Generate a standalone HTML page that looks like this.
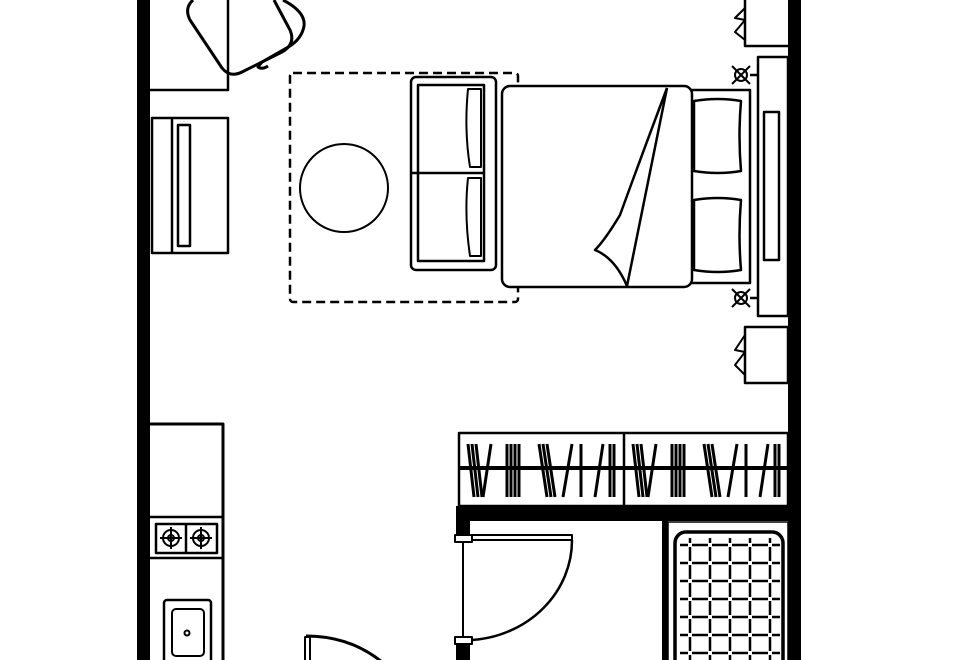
<!DOCTYPE html>
<html><head><meta charset="utf-8"><style>html,body{margin:0;padding:0;background:#fff}svg{display:block}</style></head>
<body>
<svg width="960" height="660" viewBox="0 0 960 660" xmlns="http://www.w3.org/2000/svg" fill="none" stroke="#000" stroke-width="2.5" stroke-linejoin="round">
<defs>
<g id="hang" stroke-width="3">
<line x1="13" y1="444" x2="19" y2="497"/><line x1="17" y1="444" x2="23" y2="497"/><line x1="21" y1="444" x2="27" y2="497"/>
<line x1="36" y1="444" x2="28" y2="497"/>
<line x1="52" y1="444" x2="52" y2="497"/><line x1="56" y1="444" x2="56" y2="497"/><line x1="60" y1="444" x2="60" y2="497"/><line x1="64" y1="444" x2="64" y2="497"/>
<line x1="84" y1="444" x2="92" y2="497"/><line x1="88" y1="444" x2="96" y2="497"/><line x1="92" y1="444" x2="100" y2="497"/>
<line x1="117" y1="444" x2="108" y2="497"/><line x1="126" y1="444" x2="126" y2="497"/>
<line x1="148" y1="444" x2="140" y2="497"/><line x1="155" y1="444" x2="155" y2="497"/><line x1="159" y1="444" x2="159" y2="497"/>
</g>
<g id="sock" stroke-width="2">
<circle cx="0" cy="0" r="6"/><line x1="-9" y1="-9" x2="9" y2="9"/><line x1="-9" y1="9" x2="9" y2="-9"/>
</g>
</defs>
<rect x="137" y="0" width="13" height="660" fill="#000" stroke="none"/>
<rect x="788" y="0" width="13" height="660" fill="#000" stroke="none"/>
<rect x="456" y="506" width="345" height="15" fill="#000" stroke="none"/>
<rect x="456" y="506" width="14" height="30" fill="#000" stroke="none"/>
<rect x="456" y="642" width="14" height="18" fill="#000" stroke="none"/>
<rect x="662" y="520" width="6" height="140" fill="#000" stroke="none"/>
<polyline points="150,90 228,90 228,0"/>
<path d="M193,0 Q184,8 190,20 L222,68 Q230,78 242,72 L282,52 Q296,44 290,30 L274,0" stroke-width="3"/>
<path d="M283,0 Q306,12 304,26 Q302,38 290,46 L262,62 L258,67 Q262,70 268,66" stroke-width="3"/>
<rect x="152" y="118" width="76" height="135"/>
<line x1="172" y1="118" x2="172" y2="253"/>
<rect x="178" y="125" width="12" height="121"/>
<rect x="290" y="73" width="228" height="229" rx="3" stroke-dasharray="9 5"/>
<circle cx="344" cy="188" r="44" stroke-width="2"/>
<rect x="411" y="77" width="85" height="193" rx="5" fill="#fff"/>
<rect x="418" y="85" width="66" height="176"/>
<line x1="411" y1="173" x2="484" y2="173"/>
<path d="M468,89 L481,89 L481,167 L470,167 Q464,130 468,89Z" stroke-width="2"/>
<path d="M468,178 L481,178 L481,256 L470,256 Q464,215 468,178Z" stroke-width="2"/>
<rect x="690" y="90" width="60" height="193"/>
<path d="M694,101 Q718,97 741,101 Q738,136 741,171 Q718,175 694,171Z" fill="#fff"/>
<path d="M694,200 Q718,196 741,200 Q738,235 741,270 Q718,274 694,270Z" fill="#fff"/>
<rect x="502" y="86" width="190" height="201" rx="8" fill="#fff"/>
<line x1="667" y1="88" x2="627" y2="286"/>
<path d="M667,88 Q640,160 620,215 Q605,240 595,250 Q615,258 627,286"/>
<rect x="758" y="57" width="30" height="259"/>
<rect x="764" y="112" width="15" height="148"/>
<use href="#sock" x="741" y="75"/><use href="#sock" x="741" y="298"/>
<line x1="750" y1="75" x2="758" y2="75"/><line x1="750" y1="298" x2="758" y2="298"/>
<polyline points="788,46 745,46 745,0"/>
<path d="M745,8 L735,18 L745,20 L735,32 L745,40" stroke-width="2"/>
<rect x="745" y="327" width="43" height="56"/>
<path d="M745,335 L735,350 L745,352 L735,365 L745,375" stroke-width="2"/>
<rect x="459" y="433" width="329" height="73"/>
<line x1="624" y1="433" x2="624" y2="506"/>
<line x1="459" y1="468" x2="788" y2="468" stroke-width="4"/>
<use href="#hang" x="455" y="0"/><use href="#hang" x="620" y="0"/>
<rect x="455" y="535" width="17" height="7" fill="#fff" stroke-width="2"/>
<rect x="455" y="637" width="17" height="7" fill="#fff" stroke-width="2"/>
<line x1="463" y1="542" x2="463" y2="637" stroke-width="2"/>
<rect x="472" y="535" width="100" height="5" stroke-width="2"/>
<path d="M572,540 A108,100 0 0 1 472,640"/>
<rect x="668" y="522" width="120" height="140" stroke-width="1.5"/>
<rect x="675" y="532" width="108" height="140" rx="11" stroke-width="3.5"/>
<g stroke-width="2.5">
<g stroke-dasharray="14 4" stroke-dashoffset="9">
<line x1="690" y1="538" x2="690" y2="660"/><line x1="710" y1="538" x2="710" y2="660"/><line x1="730" y1="538" x2="730" y2="660"/><line x1="750" y1="538" x2="750" y2="660"/><line x1="770" y1="538" x2="770" y2="660"/>
</g>
<g stroke-dasharray="16 4" stroke-dashoffset="8">
<line x1="680" y1="545" x2="780" y2="545"/><line x1="680" y1="563" x2="780" y2="563"/><line x1="680" y1="581" x2="780" y2="581"/><line x1="680" y1="599" x2="780" y2="599"/><line x1="680" y1="617" x2="780" y2="617"/><line x1="680" y1="635" x2="780" y2="635"/><line x1="680" y1="653" x2="780" y2="653"/>
</g>
</g>
<path d="M150,424 L223,424 L223,660" stroke-width="3"/>
<line x1="150" y1="517" x2="223" y2="517"/><line x1="150" y1="558" x2="223" y2="558"/>
<rect x="156" y="524" width="61" height="29"/><line x1="186" y1="524" x2="186" y2="553"/>
<g stroke-width="2"><circle cx="171" cy="538" r="8"/><circle cx="171" cy="538" r="3"/><line x1="160" y1="538" x2="182" y2="538"/><line x1="171" y1="527" x2="171" y2="549"/>
<circle cx="201" cy="538" r="8"/><circle cx="201" cy="538" r="3"/><line x1="190" y1="538" x2="212" y2="538"/><line x1="201" y1="527" x2="201" y2="549"/></g>
<rect x="164" y="600" width="47" height="70" rx="3"/>
<rect x="172" y="609" width="32" height="47" rx="4" stroke-width="2"/>
<circle cx="187" cy="633" r="2.5" stroke-width="2"/>
<rect x="305" y="637" width="5" height="30" stroke-width="2"/>
<path d="M306,636 Q350,636 382,662" stroke-width="3"/>
</svg>
</body></html>
